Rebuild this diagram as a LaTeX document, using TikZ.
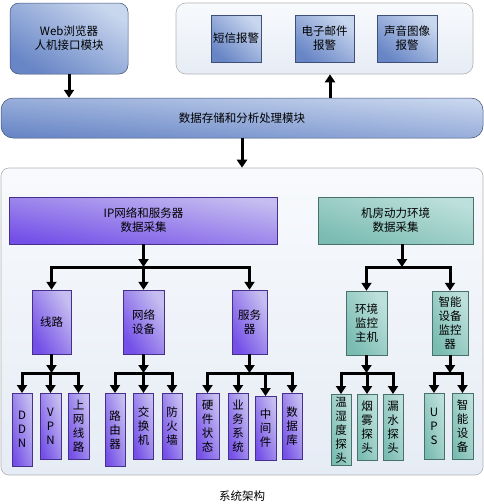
\documentclass[tikz,border=0pt]{standalone}
\usepackage{fontspec}
\setmainfont{Noto Sans CJK SC}
\usetikzlibrary{arrows.meta,positioning}
\definecolor{blueL}{RGB}{200,214,238}
\definecolor{blueD}{RGB}{104,134,198}
\definecolor{purpL}{RGB}{198,190,240}
\definecolor{purpD}{RGB}{116,80,232}
\definecolor{tealL}{RGB}{190,224,220}
\definecolor{tealD}{RGB}{122,188,178}
\definecolor{panelL}{RGB}{248,250,253}
\definecolor{panelD}{RGB}{230,236,245}

\begin{document}
\begin{tikzpicture}[x=1pt,y=-1pt,
  sa/.code 2 args={\pgfmathsetmacro\boxang{-atan2(#2,#1)}%
    \edef\tmp{\noexpand\tikzset{shading angle=\boxang}}\tmp},
  box/.style args={#1/#2/#3}{draw=#1D!60!black, line width=0.5pt, top color=#1L, bottom color=#1D,
    minimum width=#2, minimum height=#3, sa={#2}{#3},
    align=center, inner sep=0pt, font=\fontsize{11.5}{14}\selectfont},
  panel/.style={draw=black!30, line width=0.6pt, top color=panelL, bottom color=panelD},
  arr/.style={line width=3pt, -{Triangle[width=10pt,length=8pt]}}]
\useasboundingbox (0,0) rectangle (484,504);

% Top row
\node[box=blue/118/71, rounded corners=9] (web) at (69,38.5) {Web浏览器\\人机接口模块};
\node[panel, rounded corners=10, minimum width=297, minimum height=71] (alarm) at (324.5,38.5) {};
\node[box=blue/50/47] (sms) at (236,38.5) {短信报警};
\node[box=blue/59/47] (mail) at (324.5,38.5) {电子邮件\\报警};
\node[box=blue/60/47] (sound) at (407,38.5) {声音图像\\报警};

% Data module
\node[box=blue/482/40, rounded corners=12] (data) at (242,118) {数据存储和分析处理模块};
\draw[arr] (web.south) -- (web.south |- data.north);
\draw[arr] (data.north -| 330,0) -- (alarm.south -| 330,0);

% Collection panel
\node[panel, rounded corners=8, minimum width=482, minimum height=307] (collect) at (242,321.5) {};
\draw[arr] (data.south) -- (collect.north);

\node[box=purp/268/47] (ip) at (143.5,220.5) {IP网络和服务器\\数据采集};
\node[box=teal/155/47] (room) at (395.5,220.5) {机房动力环境\\数据采集};

% Second level
\node[box=purp/39/64] (line) at (51.5,322) {线路};
\node[box=purp/41/64] (net) at (143.5,322) {网络\\设备};
\node[box=purp/35/64] (server) at (249.5,322) {服务\\器};
\node[box=teal/41/64] (envhost) at (366.5,323) {环境\\监控\\主机};
\node[box=teal/36/64] (smart) at (450,323) {智能\\设备\\监控\\器};

\coordinate (jip) at (143.5,267);
\coordinate (jroom) at (402,267);
\draw[arr] (ip.south) -- (jip);
\draw[arr] (room.south -| jroom) -- (jroom);
\foreach \c in {line,net,server} \draw[arr] (jip) -| (\c.north);
\foreach \c in {envhost,smart} \draw[arr] (jroom) -| (\c.north);

% Leaves
\foreach \nm/\x/\y/\w/\h/\col/\txt in {
  ddn/22/393/20/73/purp/{D\\D\\N},
  vpn/50.5/393/21/66/purp/{V\\P\\N},
  inet/78.5/393/21/66/purp/{上\\网\\线\\路},
  router/115/393/20/73/purp/{路\\由\\器},
  switch/143.5/393/20/66/purp/{交\\换\\机},
  fw/172/393/20/66/purp/{防\\火\\墙},
  hw/207.5/393/23/66/purp/{硬\\件\\状\\态},
  biz/238/393/20/66/purp/{业\\务\\系\\统},
  mid/265.5/396/21/64/purp/{中\\间\\件},
  db/292/393/20/66/purp/{数\\据\\库},
  temp/341/394/20/71/teal/{温\\湿\\度\\探\\头},
  smoke/367/394/20/66/teal/{烟\\雾\\探\\头},
  water/393/394/20/66/teal/{漏\\水\\探\\头},
  ups/434/393/20/66/teal/{U\\P\\S},
  dev/462.5/393/21/66/teal/{智\\能\\设\\备}}
  \node[box=\col/\w/\h, anchor=north] (\nm) at (\x,\y) {\txt};

% Branches to leaves
\foreach \p/\c in {line/ddn,line/vpn,line/inet,net/router,net/switch,net/fw,
  server/hw,server/biz,server/mid,server/db,envhost/temp,envhost/smoke,envhost/water,
  smart/ups,smart/dev}
  \draw[arr] (\p.south |- 0,373) -| (\c.north);
\foreach \p in {line,net,server,envhost,smart}
  \draw[arr] (\p.south) -- (\p.south |- 0,373);

\node[font=\fontsize{11.5}{14}\selectfont] (caption) at (242,496) {系统架构};
\end{tikzpicture}
\end{document}
